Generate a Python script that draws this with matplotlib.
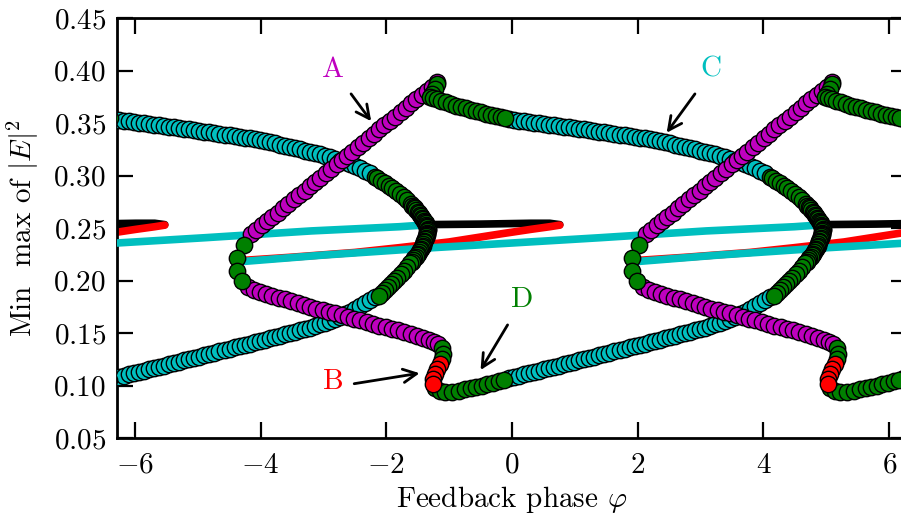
import numpy as np
import matplotlib.pyplot as plt

plt.rcParams['font.family'] = 'serif'
plt.rcParams['font.serif'] = ['cmr10']
plt.rcParams['mathtext.fontset'] = 'cm'
plt.rcParams['axes.formatter.use_mathtext'] = True

MAG = (0.75, 0, 0.75)
CYA = (0, 0.75, 0.75)
GRN = (0, 0.5, 0)
RED = (1, 0, 0)

# steady states (small dots), one period
cw_cyan_phi = [-4.26, -3.0, -1.27, 0.0, 1.39, 3.09, 4.49, 4.85]
cw_cyan_val = [0.2185, 0.2245, 0.2315, 0.2360, 0.2410, 0.2475, 0.2515, 0.2530]
cw_red_phi = [-4.26, -3.5, -2.5, -1.8, -1.0, -0.2, 0.3, 0.6, 0.76]
cw_red_val = [0.2195, 0.2225, 0.2270, 0.2315, 0.2370, 0.2445, 0.2490, 0.2515, 0.2530]
cw_black_phi = [-1.38, -0.5, 0.3, 0.6, 0.76]
cw_black_val = [0.2535, 0.2540, 0.2548, 0.2548, 0.2535]

# periodic orbits, branch A (magenta), max
a_max_phi = [-4.15, -4.07, -3.98, -3.90, -3.81, -3.73, -3.64, -3.56, -3.47, -3.39,
             -3.30, -3.22, -3.13, -3.05, -2.96, -2.88, -2.79, -2.71, -2.62, -2.54,
             -2.45, -2.37, -2.28, -2.20, -2.11, -2.03, -1.94, -1.86, -1.77, -1.69,
             -1.60, -1.52, -1.43, -1.35, -1.27, -1.19]
a_max_val = [0.2445, 0.2484, 0.2528, 0.2567, 0.2611, 0.2650, 0.2694, 0.2733, 0.2777, 0.2816,
             0.2860, 0.2899, 0.2943, 0.2982, 0.3026, 0.3065, 0.3109, 0.3148, 0.3192, 0.3231,
             0.3275, 0.3314, 0.3358, 0.3397, 0.3441, 0.3480, 0.3523, 0.3563, 0.3606, 0.3645,
             0.3689, 0.3728, 0.3772, 0.3811, 0.3850, 0.3889]
# branch A, min
a_min_phi = [-4.20, -4.11, -4.01, -3.91, -3.81, -3.71, -3.61, -3.51, -3.41, -3.31,
             -3.21, -3.11, -3.01, -2.91, -2.81, -2.71, -2.61, -2.51, -2.41, -2.31,
             -2.21, -2.11, -2.01, -1.91, -1.81, -1.71, -1.61, -1.51, -1.41, -1.32,
             -1.24, -1.18]
a_min_val = [0.1945, 0.1915, 0.1893, 0.1875, 0.1858, 0.1840, 0.1822, 0.1804, 0.1786, 0.1767,
             0.1750, 0.1735, 0.1720, 0.1705, 0.1690, 0.1673, 0.1657, 0.1640, 0.1623, 0.1606,
             0.1589, 0.1573, 0.1558, 0.1543, 0.1528, 0.1513, 0.1497, 0.1478, 0.1458, 0.1438,
             0.1418, 0.1398]
# green turning point joining A max and min
turn_phi = [-4.26, -4.37, -4.37, -4.29]
turn_val = [0.2344, 0.2219, 0.2096, 0.2000]

# C family: green after the cusp, cyan max, green fold, cyan min, green min
cusp_phi = [-1.19, -1.23, -1.27, -1.30, -1.25, -1.20, -1.13, -1.05, -0.97, -0.89,
            -0.81, -0.73, -0.65, -0.57, -0.49, -0.41, -0.33, -0.25, -0.17, -0.11]
cusp_val = [0.3875, 0.3827, 0.3780, 0.3750, 0.3740, 0.3728, 0.3715, 0.3700, 0.3685, 0.3669,
            0.3654, 0.3641, 0.3628, 0.3616, 0.3604, 0.3592, 0.3580, 0.3568, 0.3557, 0.3549]
max_cyan_phi = [-0.05, 0.03, 0.11, 0.19, 0.27, 0.35, 0.43, 0.51, 0.59, 0.67,
                0.75, 0.83, 0.91, 0.99, 1.07, 1.15, 1.23, 1.31, 1.39, 1.47,
                1.55, 1.63, 1.71, 1.79, 1.87, 1.95, 2.03, 2.11, 2.19, 2.27,
                2.35, 2.43, 2.51, 2.59, 2.67, 2.75, 2.83, 2.91, 2.99, 3.07,
                3.15, 3.23, 3.31, 3.39, 3.47, 3.55, 3.63, 3.71, 3.79, 3.87,
                3.95, 4.03]
max_cyan_val = [0.3540, 0.3532, 0.3525, 0.3518, 0.3511, 0.3505, 0.3499, 0.3493, 0.3487, 0.3481,
                0.3474, 0.3468, 0.3461, 0.3454, 0.3447, 0.3441, 0.3434, 0.3427, 0.3420, 0.3413,
                0.3406, 0.3399, 0.3392, 0.3385, 0.3378, 0.3371, 0.3364, 0.3357, 0.3350, 0.3341,
                0.3331, 0.3321, 0.3310, 0.3298, 0.3286, 0.3274, 0.3262, 0.3251, 0.3240, 0.3229,
                0.3216, 0.3203, 0.3189, 0.3175, 0.3160, 0.3145, 0.3128, 0.3110, 0.3092, 0.3072,
                0.3050, 0.3025]
fold_phi = [4.10, 4.14, 4.20, 4.26, 4.32, 4.38, 4.44, 4.50, 4.56, 4.62,
            4.67, 4.70, 4.72, 4.74, 4.76, 4.78, 4.80, 4.82, 4.84, 4.855,
            4.87, 4.885, 4.90, 4.91, 4.92, 4.928, 4.935, 4.94, 4.94, 4.938,
            4.935, 4.93, 4.925, 4.918, 4.91, 4.90, 4.89, 4.88, 4.87, 4.86,
            4.85, 4.835, 4.82, 4.805, 4.79, 4.77, 4.75, 4.73, 4.71, 4.685,
            4.66, 4.61, 4.56, 4.51, 4.46, 4.41, 4.36, 4.31, 4.26, 4.21, 4.16]
fold_val = [0.2990, 0.2975, 0.2953, 0.2930, 0.2905, 0.2880, 0.2855, 0.2825, 0.2795, 0.2765,
            0.2735, 0.2717, 0.2705, 0.2690, 0.2675, 0.2660, 0.2645, 0.2630, 0.2615, 0.2600,
            0.2585, 0.2572, 0.2560, 0.2548, 0.2535, 0.2522, 0.2510, 0.2497, 0.2485, 0.2472,
            0.2460, 0.2448, 0.2435, 0.2422, 0.2410, 0.2395, 0.2380, 0.2365, 0.2350, 0.2335,
            0.2320, 0.2305, 0.2290, 0.2275, 0.2260, 0.2245, 0.2230, 0.2215, 0.2200, 0.2183,
            0.2165, 0.2130, 0.2095, 0.2062, 0.2030, 0.1998, 0.1968, 0.1940, 0.1912, 0.1885, 0.1860]
min_cyan_phi = [-0.05, 0.03, 0.11, 0.19, 0.27, 0.35, 0.43, 0.51, 0.59, 0.67,
                0.75, 0.83, 0.91, 0.99, 1.07, 1.15, 1.23, 1.31, 1.39, 1.47,
                1.55, 1.63, 1.71, 1.79, 1.87, 1.95, 2.03, 2.11, 2.19, 2.27,
                2.35, 2.43, 2.51, 2.59, 2.67, 2.75, 2.83, 2.91, 2.99, 3.07,
                3.15, 3.23, 3.31, 3.39, 3.47, 3.55, 3.63, 3.71, 3.79, 3.87,
                3.95, 4.03, 4.11]
min_cyan_val = [0.1073, 0.1085, 0.1097, 0.1109, 0.1121, 0.1133, 0.1145, 0.1157, 0.1169, 0.1181,
                0.1193, 0.1205, 0.1217, 0.1229, 0.1241, 0.1253, 0.1265, 0.1278, 0.1290, 0.1302,
                0.1315, 0.1327, 0.1340, 0.1352, 0.1365, 0.1377, 0.1390, 0.1402, 0.1415, 0.1427,
                0.1440, 0.1452, 0.1464, 0.1477, 0.1489, 0.1501, 0.1514, 0.1527, 0.1540, 0.1553,
                0.1568, 0.1584, 0.1601, 0.1619, 0.1638, 0.1658, 0.1680, 0.1706, 0.1732, 0.1760,
                0.1788, 0.1818, 0.1848]
min_green_phi = [-1.22, -1.15, -1.06, -0.95, -0.84, -0.75, -0.66, -0.57, -0.48, -0.39,
                 -0.30, -0.21, -0.13]
min_green_val = [0.0980, 0.0951, 0.0942, 0.0942, 0.0951, 0.0965, 0.0975, 0.0988, 0.1000, 0.1015,
                 0.1030, 0.1045, 0.1060]
s_top_phi = [-1.12, -1.09, -1.11]
s_top_val = [0.1361, 0.1304, 0.1256]
s_red_phi = [-1.15, -1.20, -1.23, -1.25, -1.25]
s_red_val = [0.1208, 0.1161, 0.1113, 0.1065, 0.1018]
cusp_red_phi = [-1.24]
cusp_red_val = [0.3770]

period = 2 * np.pi
shifts = [-period, 0.0, period]

fig = plt.figure(figsize=(9.01, 5.24), dpi=100)
ax = fig.add_axes([117 / 901, (524 - 438.3) / 524, 790 / 901, 420 / 524])


def line(phi, val, color, z):
    for s in shifts:
        ax.plot(np.array(phi) + s, val, '-', color=color, lw=5.5,
                solid_capstyle='round', zorder=z)


def dots(phi, val, color, z):
    for s in shifts:
        ax.plot(np.array(phi) + s, val, 'o', color=color, ms=11.8, mec='k',
                mew=1.0, zorder=z)


line(cw_black_phi, cw_black_val, 'k', 1)
line(cw_red_phi, cw_red_val, RED, 2)
line(cw_cyan_phi, cw_cyan_val, CYA, 3)

dots(max_cyan_phi, max_cyan_val, CYA, 4)
dots(min_cyan_phi, min_cyan_val, CYA, 4)
dots(a_max_phi, a_max_val, MAG, 5)
dots(a_min_phi, a_min_val, MAG, 5)
dots(cusp_red_phi, cusp_red_val, RED, 5.5)
dots(cusp_phi, cusp_val, GRN, 6)
dots(fold_phi, fold_val, GRN, 6)
dots(min_green_phi, min_green_val, GRN, 6)
dots(turn_phi, turn_val, GRN, 6)
dots(s_top_phi, s_top_val, GRN, 6)
dots(s_red_phi, s_red_val, RED, 7)

fs = 21
for lbl, c, xy, tail, head in [
        ('A', MAG, (-2.84, 0.401), (-2.56, 0.378), (-2.24, 0.352)),
        ('C', CYA, (3.16, 0.401), (2.91, 0.378), (2.46, 0.341)),
        ('B', RED, (-2.84, 0.1036), (-2.51, 0.102), (-1.47, 0.112)),
        ('D', GRN, (0.167, 0.1817), (-0.07, 0.158), (-0.50, 0.115))]:
    ax.text(xy[0], xy[1], lbl, color=c, fontsize=fs, ha='center', va='center')
    ax.annotate('', xy=head, xytext=tail,
                arrowprops=dict(arrowstyle='->', color='k', lw=2, mutation_scale=24,
                                shrinkA=0, shrinkB=0))

ax.set_xlim(-period, period)
ax.set_ylim(0.05, 0.45)
ax.set_xticks([-6, -4, -2, 0, 2, 4, 6])
ax.set_yticks(np.arange(0.05, 0.451, 0.05))
ax.tick_params(direction='in', length=11.5, width=1.6, labelsize=fs,
               top=True, right=True)
ax.tick_params(axis='x', pad=10)
ax.tick_params(axis='y', pad=8)
for sp in ax.spines.values():
    sp.set_linewidth(2)

ax.set_xlabel(r'Feedback phase $\varphi$', fontsize=fs)
ax.set_ylabel(r'Min  max of $|E|^2$', fontsize=fs)
ax.xaxis.set_label_coords(0.5, -0.108)
ax.yaxis.set_label_coords(-0.096, 0.5)

fig.savefig('out.png', dpi=100)
